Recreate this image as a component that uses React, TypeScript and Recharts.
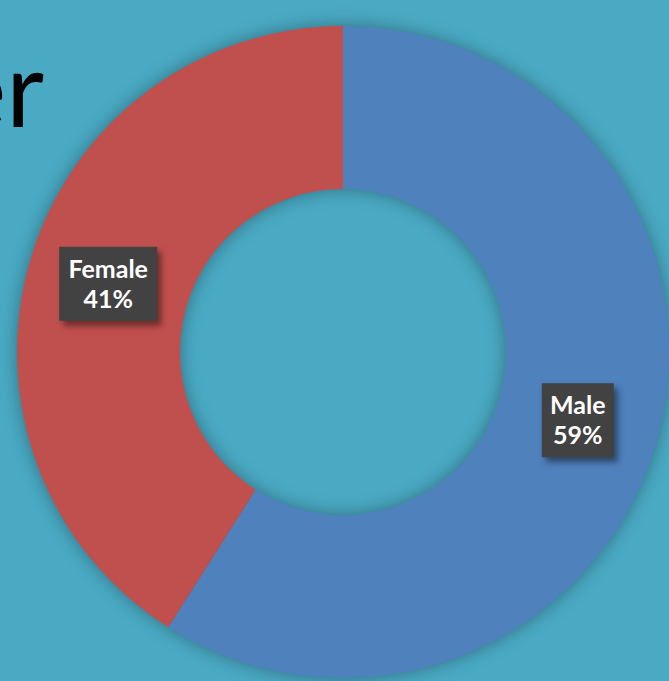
import React from 'react';
import { PieChart, Pie, Cell } from 'recharts';

const categories = ['Male', 'Female'];
const shares = [59, 41];
const sliceColors = ['#4f81bd', '#c0504d'];
const titleText = 'Gender';

const data = categories.map((name, i) => ({ name, value: shares[i] }));

const RADIAN = Math.PI / 180;

const renderLabel = (props: any) => {
  const { cx, cy, midAngle, innerRadius, outerRadius, percent, name } = props;
  const r = (innerRadius + outerRadius) / 2;
  const x = cx + r * Math.cos(-midAngle * RADIAN);
  const y = cy + r * Math.sin(-midAngle * RADIAN);
  const w = name.length * 13 + 20;
  const h = 74;
  return (
    <g>
      <rect x={x - w / 2 + 4} y={y - h / 2 + 5} width={w} height={h} fill="rgba(0,0,0,0.45)" style={{ filter: 'blur(3px)' }} />
      <rect x={x - w / 2} y={y - h / 2} width={w} height={h} fill="#424242" />
      <text x={x} y={y - 6} textAnchor="middle" fill="#ffffff" fontFamily="Lato, 'Open Sans', sans-serif" fontWeight={700} fontSize={25}>
        {name}
      </text>
      <text x={x} y={y + 24} textAnchor="middle" fill="#ffffff" fontFamily="Lato, 'Open Sans', sans-serif" fontWeight={700} fontSize={25}>
        {`${Math.round(percent * 100)}%`}
      </text>
    </g>
  );
};

export default function App() {
  return (
    <div style={{ position: 'fixed', left: 0, top: 0, width: 669, height: 681, background: '#4aaac4', overflow: 'hidden' }}>
      <style>{`.recharts-pie { filter: drop-shadow(0 0 9px rgba(0,0,0,0.35)); }`}</style>
      <svg width={669} height={681} style={{ position: 'absolute', left: 0, top: 0 }}>
        <text x={44} y={127} textAnchor="end" fontSize={104} fontFamily="Lato, 'Open Sans', sans-serif" fill="#000000">
          {titleText}
        </text>
      </svg>
      <div style={{ position: 'absolute', left: 0, top: 0 }}>
        <PieChart width={669} height={681} margin={{ top: 0, right: 0, bottom: 0, left: 0 }}>
          <Pie
            data={data}
            dataKey="value"
            nameKey="name"
            cx={343}
            cy={352}
            innerRadius={163}
            outerRadius={326}
            startAngle={90}
            endAngle={-270}
            stroke="none"
            label={renderLabel}
            labelLine={false}
            isAnimationActive={false}
          >
            {data.map((d, i) => (
              <Cell key={d.name} fill={sliceColors[i]} />
            ))}
          </Pie>
        </PieChart>
      </div>
    </div>
  );
}
